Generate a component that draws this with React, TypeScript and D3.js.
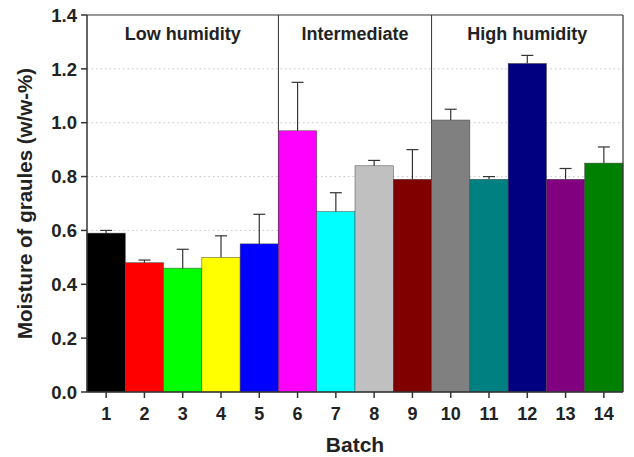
import React from "react";
import * as d3 from "d3";

const batches = ["1", "2", "3", "4", "5", "6", "7", "8", "9", "10", "11", "12", "13", "14"];
const moisture = [0.59, 0.48, 0.46, 0.5, 0.55, 0.97, 0.67, 0.84, 0.79, 1.01, 0.79, 1.22, 0.79, 0.85];
const errors = [0.01, 0.01, 0.07, 0.08, 0.11, 0.18, 0.07, 0.02, 0.11, 0.04, 0.01, 0.03, 0.04, 0.06];
const colors = [
  "#000000", "#ff0000", "#00ff00", "#ffff00", "#0000ff", "#ff00ff", "#00ffff",
  "#c0c0c0", "#800000", "#808080", "#008080", "#000080", "#800080", "#008000",
];
const groups = ["Low humidity", "Intermediate", "High humidity"];
const groupStart = [0, 5, 9];
const groupEnd = [4, 8, 13];
const yTicks = [0, 0.2, 0.4, 0.6, 0.8, 1.0, 1.2, 1.4];
const gridTicks = [0.2, 0.4, 0.6, 0.8, 1.0, 1.2];

const width = 634;
const height = 457;
const margin = { top: 15, right: 11, bottom: 65, left: 87 };
const font = "Liberation Sans, Arial, sans-serif";

export default function App() {
  const x = d3
    .scaleBand()
    .domain(batches)
    .range([margin.left, width - margin.right])
    .padding(0);
  const y = d3
    .scaleLinear()
    .domain([0, 1.4])
    .range([height - margin.bottom, margin.top]);
  const bw = x.bandwidth();
  const x0 = margin.left;
  const x1 = width - margin.right;
  const y0 = y(0);
  const axisColor = "#333";

  return (
    <svg width={width} height={height} style={{ position: "absolute", left: 0, top: 0 }}>
      <rect width={width} height={height} fill="#fff" />
      {gridTicks.map((t) => (
        <line key={t} x1={x0} x2={x1} y1={y(t)} y2={y(t)} stroke="#c8c8c8" strokeDasharray="1.5,3" />
      ))}
      {/* group dividers */}
      {groupStart.slice(1).map((s) => (
        <line key={s} x1={x(batches[s])!} x2={x(batches[s])!} y1={margin.top} y2={y0} stroke={axisColor} strokeWidth={1} />
      ))}
      {moisture.map((v, i) => (
        <rect
          key={i}
          x={x(batches[i])!}
          y={y(v)}
          width={bw}
          height={y0 - y(v)}
          fill={colors[i]}
          stroke="#444"
          strokeWidth={0.5}
        />
      ))}
      {moisture.map((v, i) => {
        const cx = x(batches[i])! + bw / 2;
        return (
          <g key={i} stroke="#333" strokeWidth={1.2}>
            <line x1={cx} x2={cx} y1={y(v)} y2={y(v + errors[i])} />
            <line x1={cx - 6} x2={cx + 6} y1={y(v + errors[i])} y2={y(v + errors[i])} />
          </g>
        );
      })}
      {/* frame */}
      <line x1={x0} x2={x1} y1={margin.top} y2={margin.top} stroke={axisColor} strokeWidth={1.2} />
      <line x1={x1} x2={x1} y1={margin.top} y2={y0} stroke={axisColor} strokeWidth={1.2} />
      <line x1={x0} x2={x0} y1={margin.top} y2={y0} stroke={axisColor} strokeWidth={1.5} />
      <line x1={x0} x2={x1} y1={y0} y2={y0} stroke={axisColor} strokeWidth={1.5} />
      {yTicks.map((t) => (
        <g key={t}>
          <line x1={x0 - 6} x2={x0} y1={y(t)} y2={y(t)} stroke={axisColor} strokeWidth={1.5} />
          <text x={x0 - 10} y={y(t)} dy="0.36em" textAnchor="end" fontFamily={font} fontWeight="bold" fontSize={18.5} fill="#222">
            {t.toFixed(1)}
          </text>
        </g>
      ))}
      {batches.map((b) => {
        const cx = x(b)! + bw / 2;
        return (
          <g key={b}>
            <line x1={cx} x2={cx} y1={y0} y2={y0 + 6} stroke={axisColor} strokeWidth={1.5} />
            <text x={cx} y={y0 + 28} textAnchor="middle" fontFamily={font} fontWeight="bold" fontSize={18} fill="#222">
              {b}
            </text>
          </g>
        );
      })}
      {groups.map((g, i) => {
        const cx = (x(batches[groupStart[i]])! + x(batches[groupEnd[i]])! + bw) / 2;
        return (
          <text key={g} x={cx} y={40} textAnchor="middle" fontFamily={font} fontWeight="bold" fontSize={18} fill="#222">
            {g}
          </text>
        );
      })}
      <text x={(x0 + x1) / 2} y={452} textAnchor="middle" fontFamily={font} fontWeight="bold" fontSize={21} fill="#222">
        Batch
      </text>
      <text
        transform={`translate(32,${(margin.top + y0) / 2}) rotate(-90)`}
        textAnchor="middle"
        fontFamily={font}
        fontWeight="bold"
        fontSize={20.5}
        fill="#222"
      >
        Moisture of graules (w/w-%)
      </text>
    </svg>
  );
}
